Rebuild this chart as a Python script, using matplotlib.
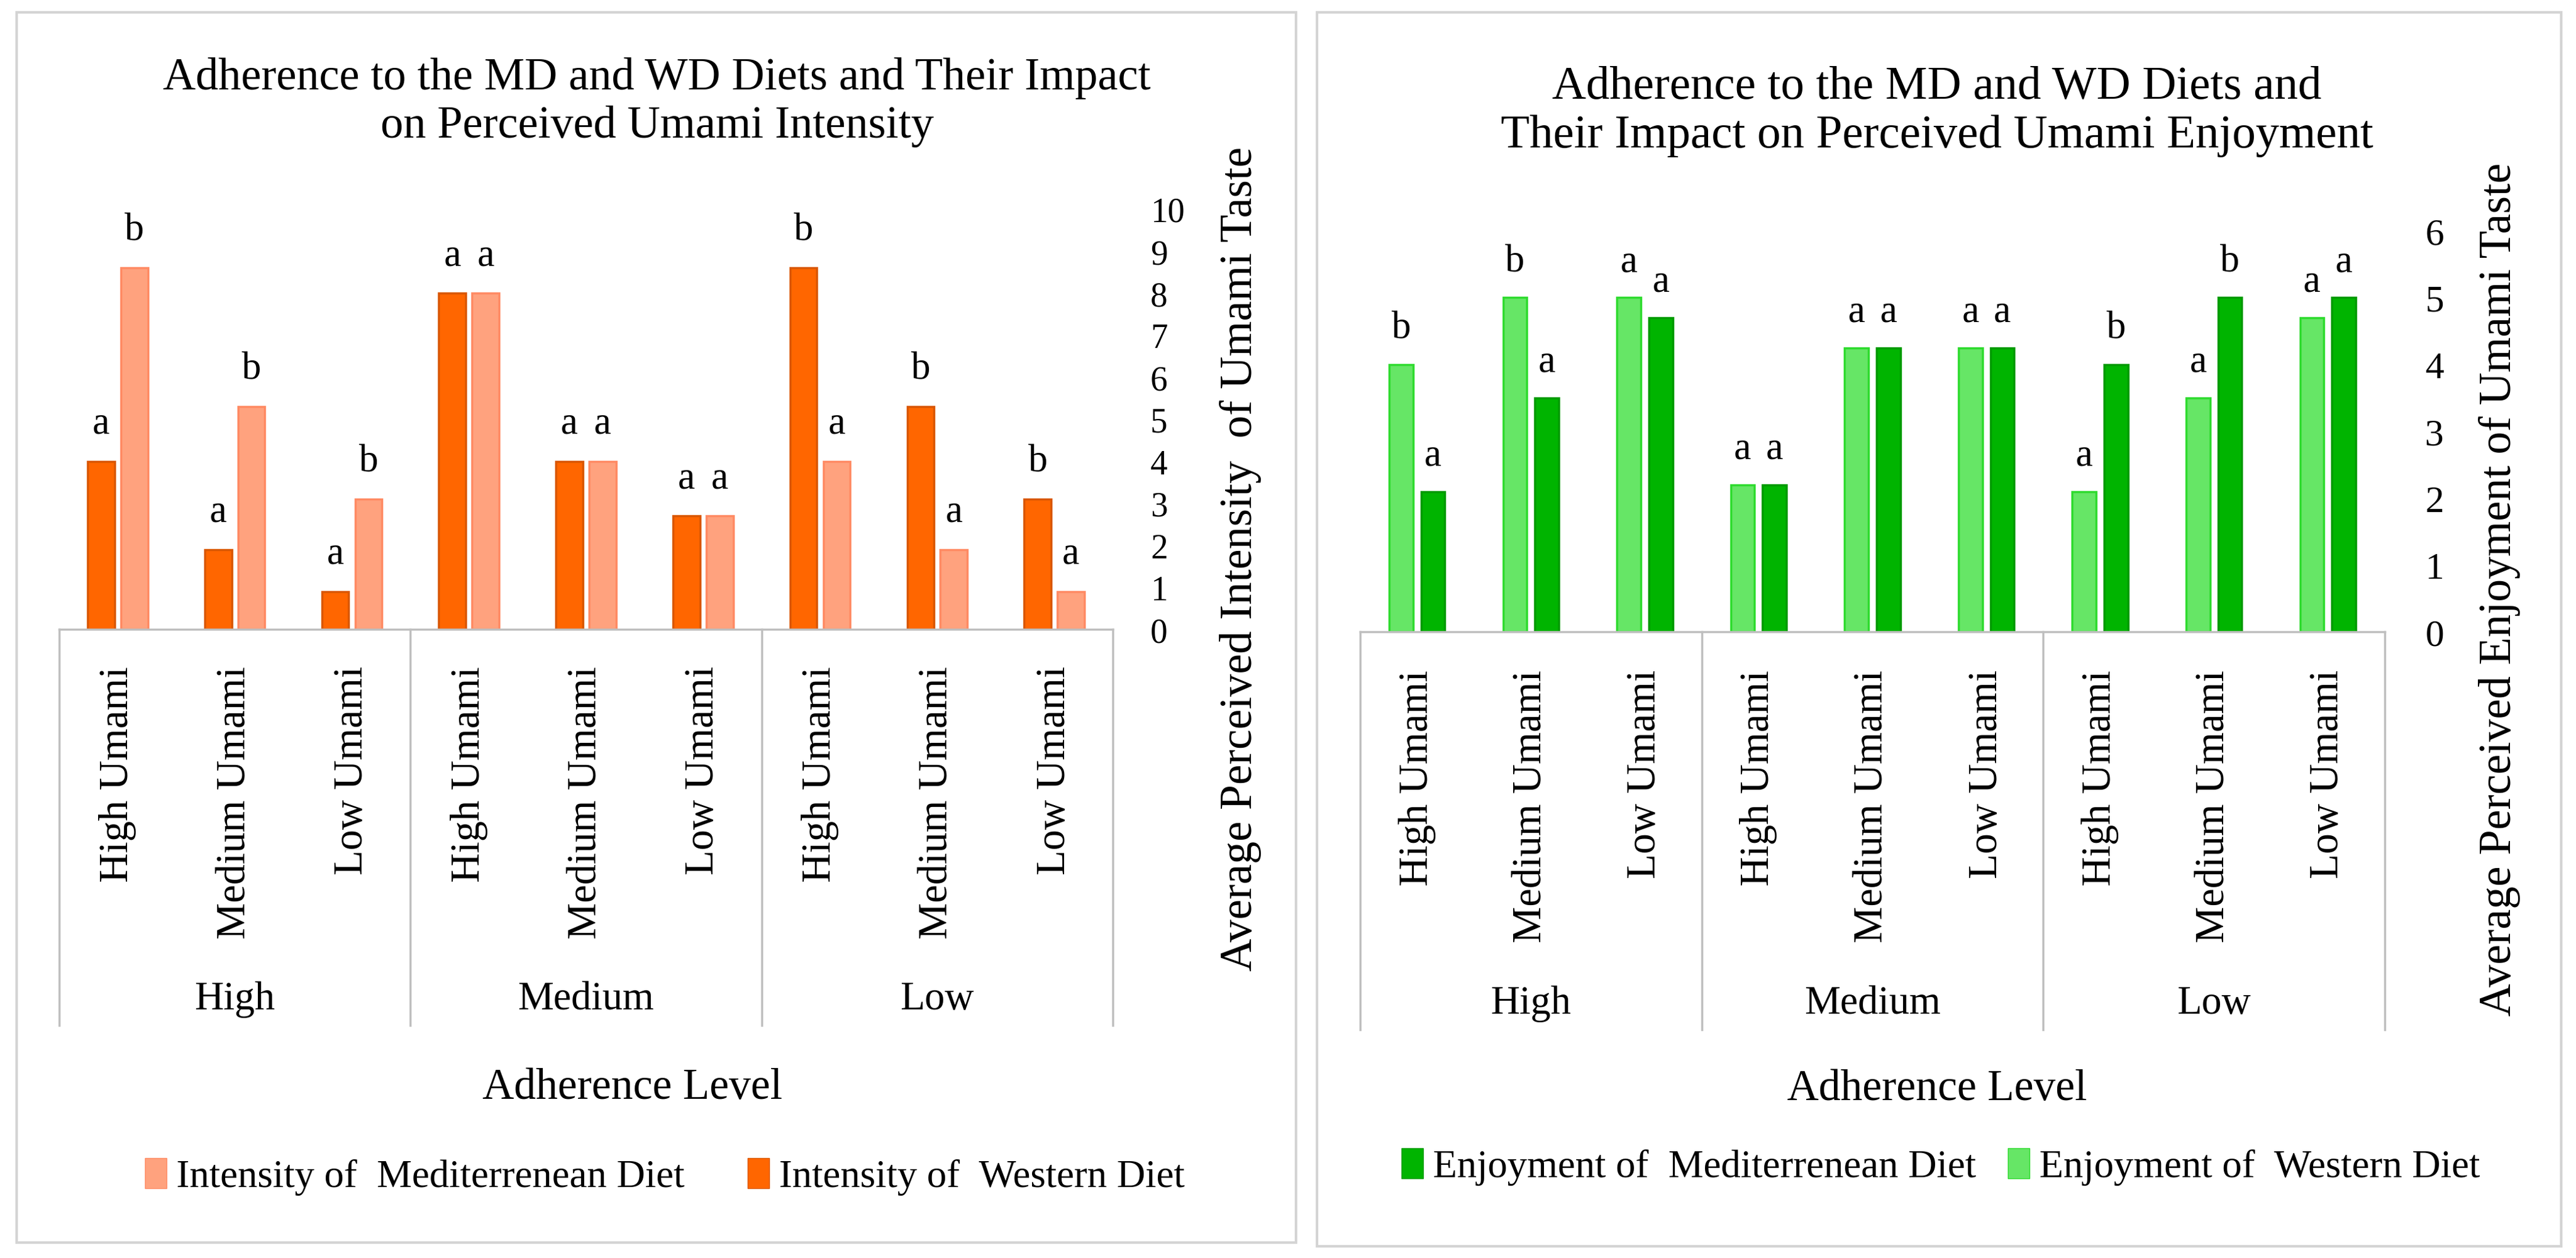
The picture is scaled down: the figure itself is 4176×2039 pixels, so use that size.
import numpy as np
import matplotlib
matplotlib.use('Agg')
import matplotlib.pyplot as plt
from matplotlib.patches import Rectangle, Patch
from matplotlib.transforms import blended_transform_factory

# ==== Data ====
umami_levels = ['High Umami', 'Medium Umami', 'Low Umami'] * 3
adherence_groups = ['High', 'Medium', 'Low']

intensity_western = [4.0, 1.9, 0.9, 8.0, 4.0, 2.7, 8.6, 5.3, 3.1]
intensity_med = [8.6, 5.3, 3.1, 8.0, 4.0, 2.7, 4.0, 1.9, 0.9]
intensity_western_letters = ['a', 'a', 'a', 'a', 'a', 'a', 'b', 'b', 'b']
intensity_med_letters = ['b', 'b', 'b', 'a', 'a', 'a', 'a', 'a', 'a']

enjoy_western = [4.0, 5.0, 5.0, 2.2, 4.25, 4.25, 2.1, 3.5, 4.7]
enjoy_med = [2.1, 3.5, 4.7, 2.2, 4.25, 4.25, 4.0, 5.0, 5.0]
enjoy_western_letters = ['b', 'b', 'a', 'a', 'a', 'a', 'a', 'a', 'a']
enjoy_med_letters = ['a', 'a', 'a', 'a', 'a', 'a', 'b', 'b', 'a']

# ==== Style ====
plt.rcParams['font.family'] = ['Liberation Serif', 'DejaVu Serif']
W, H = 4176, 2040
DPI = 100
fig = plt.figure(figsize=(W / DPI, H / DPI), dpi=DPI)

ORANGE_DARK, ORANGE_DARK_EDGE = '#FF6600', '#D95700'
ORANGE_LIGHT, ORANGE_LIGHT_EDGE = '#FFA27E', '#FF8A63'
GREEN_LIGHT, GREEN_LIGHT_EDGE = '#66E666', '#2EDB2E'
GREEN_DARK, GREEN_DARK_EDGE = '#00B400', '#009A00'
GRID_GRAY = '#BFBFBF'


def fx(px):
    return px / W


def fy(py):
    return 1 - py / H


# panel borders
for x0, y0, x1, y1 in [(27, 21, 2101, 2015), (2135, 21, 4152, 2021)]:
    fig.patches.append(Rectangle((fx(x0), fy(y1)), fx(x1 - x0), (y1 - y0) / H,
                                 transform=fig.transFigure, fill=False,
                                 edgecolor='#D4D4D4', linewidth=3))


def draw_panel(rect, first, second, first_letters, second_letters,
               c1, e1, c2, e2, ymax, bar_w, offs, box_bottom_px, label_top_px,
               group_px, tick_pad, tick_size, letter_off):
    ax = fig.add_axes(rect)
    x = np.arange(len(umami_levels))
    b1 = ax.bar(x - offs, first, width=bar_w, color=c1, edgecolor=e1, linewidth=2.5)
    b2 = ax.bar(x + offs, second, width=bar_w, color=c2, edgecolor=e2, linewidth=2.5)
    for bars, letters in [(b1, first_letters), (b2, second_letters)]:
        for bar, lab in zip(bars, letters):
            ax.annotate(lab, (bar.get_x() + bar.get_width() / 2, bar.get_height()),
                        xytext=(0, letter_off), textcoords='offset points',
                        ha='center', va='baseline', fontsize=45, annotation_clip=False)
    ax.set_xlim(-0.5, len(umami_levels) - 0.5)
    ax.set_ylim(0, ymax)
    ax.set_yticks(range(0, ymax + 1))
    ax.yaxis.tick_right()
    ax.tick_params(axis='y', length=0, pad=tick_pad, labelsize=tick_size)
    ax.set_xticks([])
    for s in ax.spines.values():
        s.set_visible(False)
    ax.set_facecolor('none')

    # category box under the bars
    tr = blended_transform_factory(ax.transData, fig.transFigure)
    ax.plot([-0.5, len(umami_levels) - 0.5], [ax.get_position().y0] * 2,
            transform=tr, color=GRID_GRAY, lw=2.5, clip_on=False)
    for xb in [-0.5, 2.5, 5.5, 8.5]:
        ax.plot([xb, xb], [ax.get_position().y0, fy(box_bottom_px)],
                transform=tr, color=GRID_GRAY, lw=2.5, clip_on=False)
    for xi, lab in zip(x, umami_levels):
        ax.text(xi, fy(label_top_px), lab, transform=tr, rotation=90,
                ha='center', va='top', fontsize=48)
    for gi, g in enumerate(adherence_groups):
        ax.text(gi * 3 + 1, fy(group_px), g, transform=tr,
                ha='center', va='center', fontsize=47)
    return ax


# ==== Left panel: intensity ====
draw_panel([fx(96), fy(1021), fx(1708), 681 / H],
           intensity_western, intensity_med,
           intensity_western_letters, intensity_med_letters,
           ORANGE_DARK, ORANGE_DARK_EDGE, ORANGE_LIGHT, ORANGE_LIGHT_EDGE,
           ymax=10, bar_w=0.23, offs=0.142, box_bottom_px=1663,
           label_top_px=1080, group_px=1620, tick_pad=44, tick_size=40,
           letter_off=33)

fig.text(fx(1065), fy(166), 'Adherence to the MD and WD Diets and Their Impact\n'
         'on Perceived Umami Intensity', ha='center', va='center',
         fontsize=53, linespacing=1.2)
fig.text(fx(2011), fy(906), 'Average Perceived Intensity  of Umami Taste',
         rotation=90, ha='center', va='center', fontsize=53)
fig.text(fx(1025), fy(1763), 'Adherence Level', ha='center', va='center', fontsize=51)
fig.legend(handles=[Patch(facecolor=ORANGE_LIGHT, edgecolor=ORANGE_LIGHT_EDGE,
                          label='Intensity of  Mediterrenean Diet'),
                    Patch(facecolor=ORANGE_DARK, edgecolor=ORANGE_DARK_EDGE,
                          label='Intensity of  Western Diet')],
           loc='center', bbox_to_anchor=(fx(1078), fy(1908)), ncol=2,
           frameon=False, fontsize=46, handlelength=0.55, handleheight=0.8,
           handletextpad=0.25, columnspacing=1.6)

# ==== Right panel: enjoyment ====
draw_panel([fx(2205), fy(1025), fx(1661), 650 / H],
           enjoy_western, enjoy_med,
           enjoy_western_letters, enjoy_med_letters,
           GREEN_LIGHT, GREEN_LIGHT_EDGE, GREEN_DARK, GREEN_DARK_EDGE,
           ymax=6, bar_w=0.21, offs=0.14, box_bottom_px=1670,
           label_top_px=1086, group_px=1627, tick_pad=47, tick_size=44,
           letter_off=31)

fig.text(fx(3140), fy(181), 'Adherence to the MD and WD Diets and\n'
         'Their Impact on Perceived Umami Enjoyment', ha='center', va='center',
         fontsize=55, linespacing=1.2)
fig.text(fx(4052), fy(955), 'Average Perceived Enjoyment of Umami Taste',
         rotation=90, ha='center', va='center', fontsize=53)
fig.text(fx(3140), fy(1766), 'Adherence Level', ha='center', va='center', fontsize=51)
fig.legend(handles=[Patch(facecolor=GREEN_DARK, edgecolor=GREEN_DARK_EDGE,
                          label='Enjoyment of  Mediterrenean Diet'),
                    Patch(facecolor=GREEN_LIGHT, edgecolor=GREEN_LIGHT_EDGE,
                          label='Enjoyment of  Western Diet')],
           loc='center', bbox_to_anchor=(fx(3146), fy(1892)), ncol=2,
           frameon=False, fontsize=46, handlelength=0.55, handleheight=0.8,
           handletextpad=0.25, columnspacing=0.8)

fig.savefig('out.png', dpi=DPI, facecolor='white')
